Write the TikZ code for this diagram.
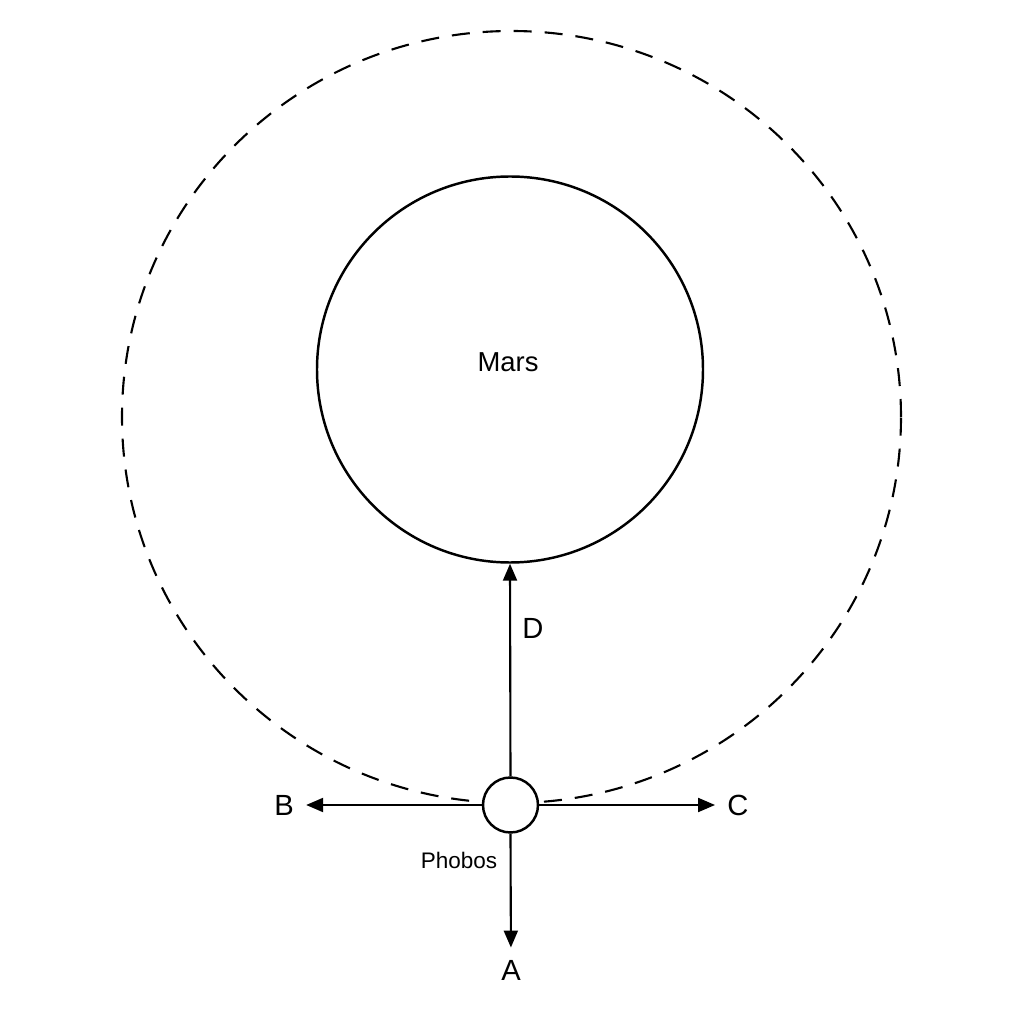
\documentclass[tikz,border=0pt]{standalone}
\usepackage{fontspec}
\setmainfont{Liberation Sans}
\usetikzlibrary{arrows.meta}

\begin{document}
\begin{tikzpicture}[
    body/.style={circle, draw, line width=0.7pt, fill=white, inner sep=0pt},
    link/.style={line width=0.6pt, -{Triangle[length=1.7mm,width=1.4mm]}},
    letter/.style={font=\fontsize{8.3}{10}\selectfont}
]
    \useasboundingbox (0,0) rectangle (10.24,10.24);

    % Orbit of Phobos
    \draw[line width=0.6pt, dash pattern=on 1.8mm off 1.3mm] (5.115,6.07) ellipse (3.895 and 3.86);

    % Mars and Phobos
    \node[body, minimum size=3.86cm] (mars) at (5.10,6.545) {};
    \node[font=\fontsize{7.8}{9}\selectfont] (marsText) at (5.08,6.62) {Mars};
    \node[body, minimum size=0.55cm] (phobos) at (5.105,2.19) {};
    \node[font=\fontsize{6.4}{8}\selectfont] (phobosText) at (4.59,1.64) {Phobos};

    % Direction labels
    \node[letter] (a) at (5.11,0.54) {A};
    \node[letter] (b) at (2.84,2.19) {B};
    \node[letter] (c) at (7.38,2.19) {C};
    \node[letter] (d) at (5.33,3.96) {D};

    % Arrows
    \draw[link] (phobos.south) -- (a);
    \draw[link] (phobos.west) -- (b);
    \draw[link] (phobos.east) -- (c);
    \draw[link] (phobos.north) -- (mars.south);
\end{tikzpicture}
\end{document}
